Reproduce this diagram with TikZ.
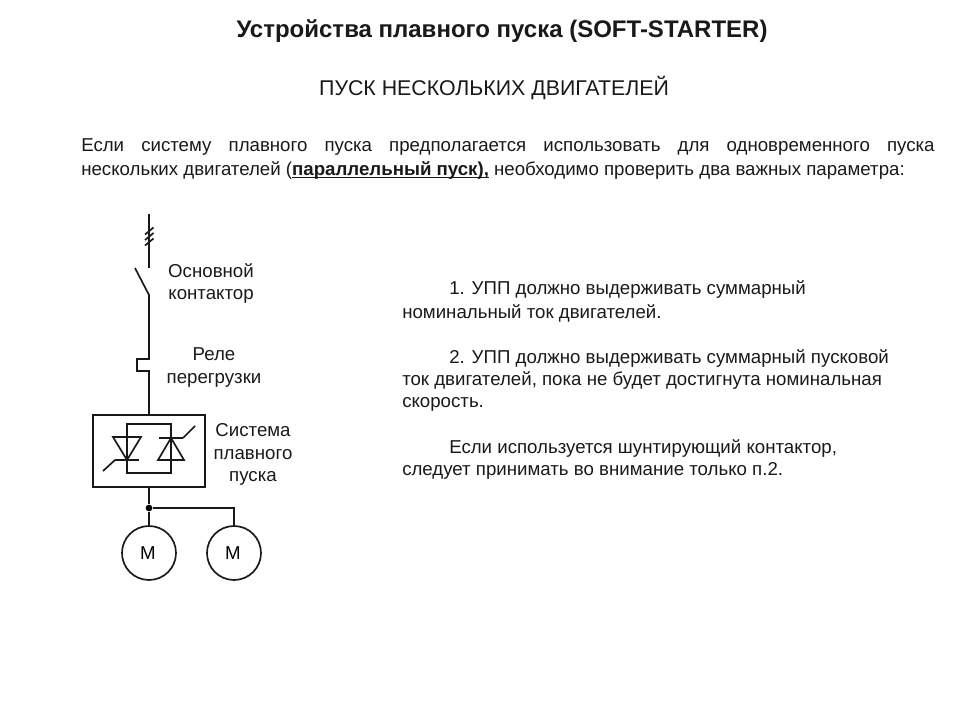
\documentclass[tikz,border=0pt]{standalone}
\usepackage{fontspec}
\setmainfont{Liberation Sans}
\newcommand{\fs}[1]{\fontsize{#1}{#1}\selectfont}
\newcommand{\ulbold}[1]{\setbox0=\hbox{\textbf{#1}}\rlap{\rule[-1.6pt]{\wd0}{0.9pt}}\box0\relax}
\tikzset{
  x=0.75pt,y=-0.75pt,
  wire/.style={draw=black!90,line width=1.25pt},
  txt/.style={inner sep=0pt,anchor=base west,text=black!90,font=\fs{14}},
  lbl/.style={inner sep=0pt,anchor=base,text=black!90,font=\fs{14}},
  motor/.style={draw=black!90,line width=1.25pt,circle,minimum size=40.5pt,inner sep=0pt,font=\fs{14}},
  dotn/.style={fill=black,circle,minimum size=5pt,inner sep=0pt},
}
\begin{document}
\begin{tikzpicture}
\useasboundingbox (0,0) rectangle (960,720);
\node[lbl,font=\fs{18}\bfseries] (title) at (502,38) {Устройства плавного пуска (SOFT-STARTER)};
\node[lbl,font=\fs{16}] (sub) at (494,96) {ПУСК НЕСКОЛЬКИХ ДВИГАТЕЛЕЙ};
\node[txt] (p1) at (81,152) {\hbox to 640pt{Если\hfill систему\hfill плавного\hfill пуска\hfill предполагается\hfill использовать\hfill для\hfill одновременного\hfill пуска}};
\node[txt] (p2) at (81,176) {нескольких двигателей (\ulbold{параллельный пуск),} необходимо проверить два важных параметра:};
\node[txt] (a1) at (449,295) {1. УПП должно выдерживать суммарный};
\node[txt] (a2) at (402,318) {номинальный ток двигателей.};
\node[txt] (b1) at (449,363) {2. УПП должно выдерживать суммарный пусковой};
\node[txt] (b2) at (402,385) {ток двигателей, пока не будет достигнута номинальная};
\node[txt] (b3) at (402,407) {скорость.};
\node[txt] (c1) at (449,453) {Если используется шунтирующий контактор,};
\node[txt] (c2) at (402,475) {следует принимать во внимание только п.2.};
\node[lbl] (l1) at (211,277) {Основной};
\node[lbl] (l2) at (211,300) {контактор};
\node[lbl] (l3) at (214,360) {Реле};
\node[lbl] (l4) at (214,383) {перегрузки};
\node[lbl] (l5) at (253,436) {Система};
\node[lbl] (l6) at (253,459) {плавного};
\node[lbl] (l7) at (253,481) {пуска};
% line
\coordinate (top) at (149,214);
\coordinate (ce) at (149,268);
\coordinate (bl) at (135,268);
\coordinate (cs) at (149,295);
\coordinate (r1) at (149,359);
\coordinate (r2) at (137,359);
\coordinate (r3) at (137,371);
\coordinate (r4) at (149,371);
\node[draw=black!90,line width=1.25pt,minimum width=84pt,minimum height=54pt,inner sep=0pt] (box) at (149,451) {};
\node[motor] (m1) at (149,553) {\hspace{-1.5pt}М};
\node[motor] (m2) at (234,553) {\hspace{-1.5pt}М};
\node[dotn] (j) at (149,508) {};
\draw[wire] (top) -- (ce);
\draw[wire] (bl) -- (cs) -- (r1) -- (r2) -- (r3) -- (r4) -- (box.north);
\draw[wire] (box.south) -- (j) -- (m1);
\draw[wire] (j) -| (m2);
% slashes
\foreach \y in {231,236.5,242} \draw[wire] (145,\y+3.5) -- (153.5,\y-3.5);
% inner
\draw[wire] (127,424) rectangle (171,473);
\draw[wire] (113,437) -- (141,437) -- (127,460) -- cycle;
\draw[wire] (115,460) -- (139,460);
\draw[wire] (103,471) -- (115,460);
\draw[wire] (158,460) -- (184,460) -- (171,438) -- cycle;
\draw[wire] (159,438) -- (183,438);
\draw[wire] (183,438) -- (195,426);
\end{tikzpicture}
\end{document}
